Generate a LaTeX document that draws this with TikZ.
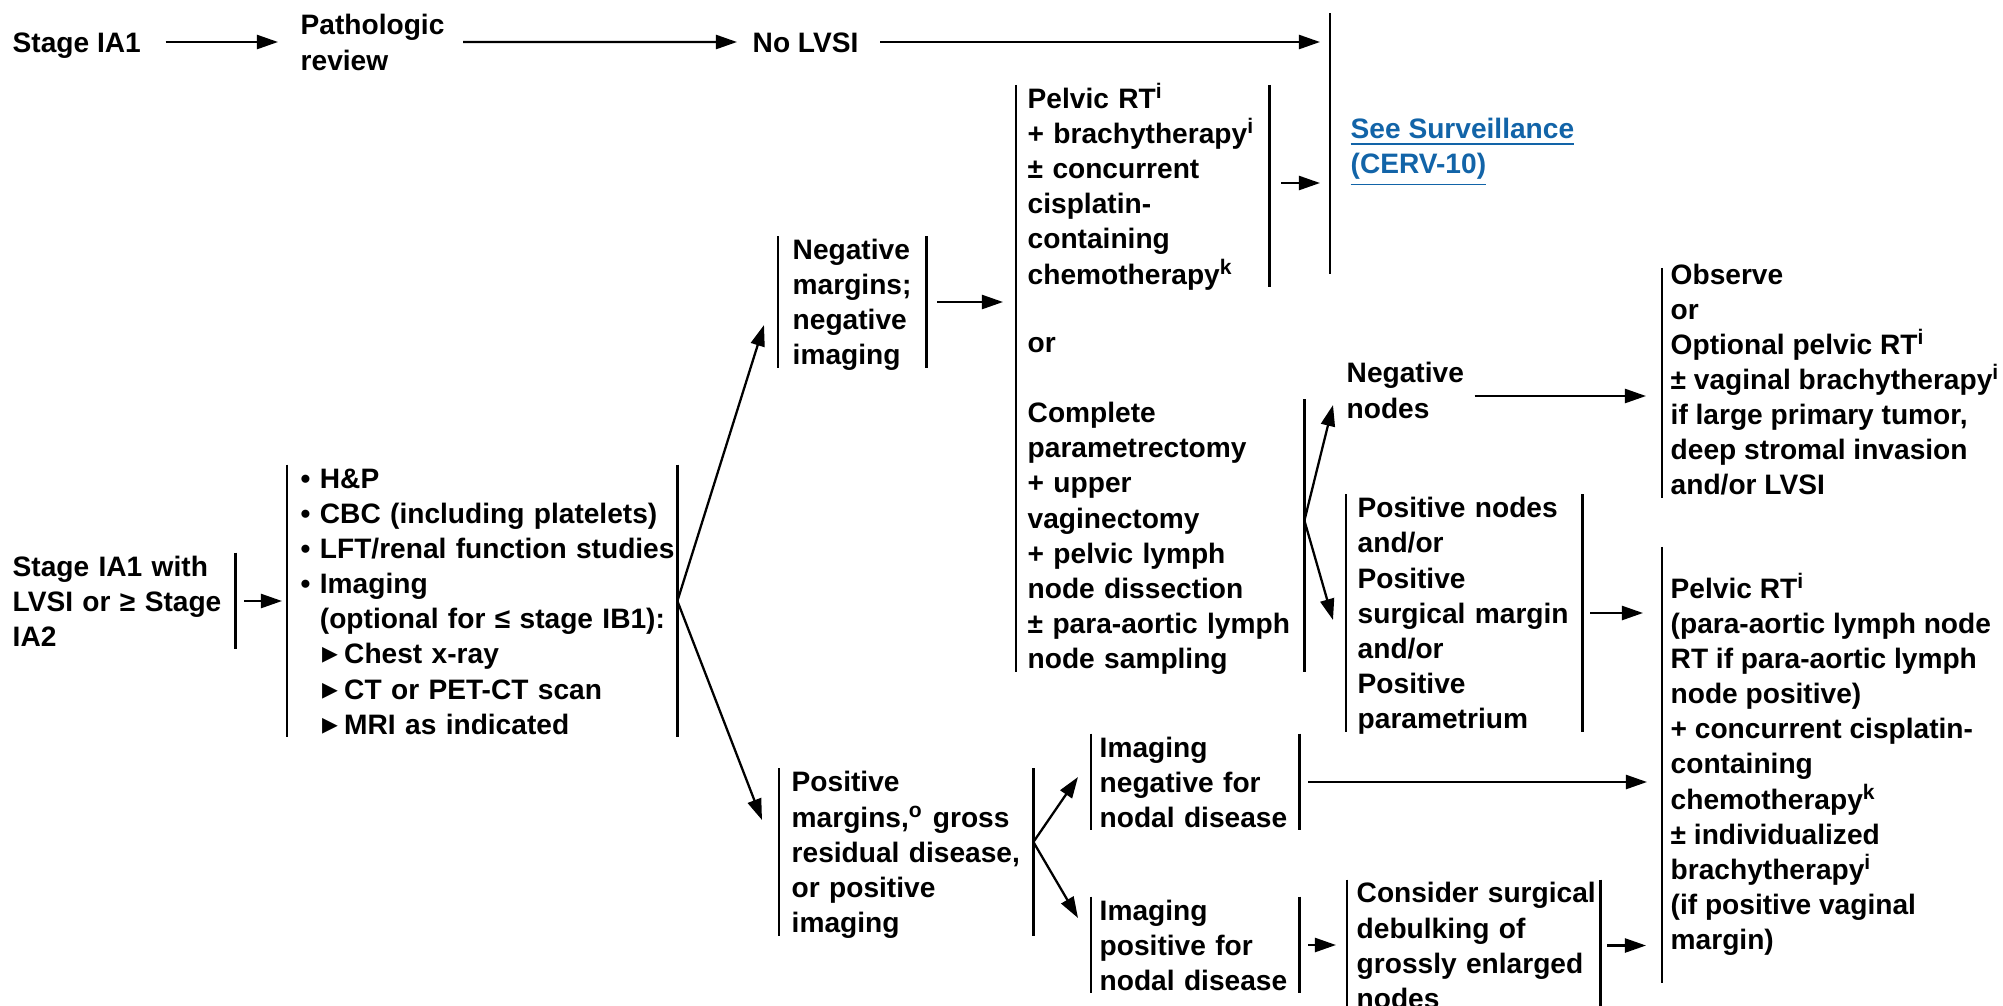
\documentclass[tikz,border=0pt]{standalone}
\usepackage{fontspec}
\setmainfont{Liberation Sans}
\newfontfamily\trifont{DejaVu Sans}
\usetikzlibrary{arrows.meta}
\definecolor{linkblue}{RGB}{18,100,168}
\setlength\parindent{0pt}
\newcommand\lstrut{\rule[-2.1pt]{0pt}{10pt}}
\newcommand\fnref[1]{\textsuperscript{#1}}
\newcommand\tri{\hspace{0.8pt}{\trifont\fontsize{9}{10}\selectfont\char"25B8}\hspace{1.6pt}}

\begin{document}
\begin{tikzpicture}[x=0.1mm,y=-0.1mm,
    txt/.style={anchor=west,align=left,inner sep=0pt,
        font=\fontsize{8}{10}\selectfont\bfseries,
        execute at begin node=\lstrut,execute at end node=\lstrut},
    link/.style={txt,text=linkblue},
    bar/.style={line width=0.65pt,shorten <=0.5mm,shorten >=0.5mm},
    arr/.style={line width=0.65pt,->},
    >={Triangle[length=6pt,width=4pt]}]
\useasboundingbox (0,0) rectangle (2003,1006);

% top row
\node (stagea) at (12,42)[txt]{Stage IA1};
\node (patho) at (300,46)[txt]{Pathologic\\review};
\node (nolvsi) at (752,42)[txt]{No LVSI};
\node (surv) at (1350,152.5)[link,minimum height=26.9mm]{\underline{See Surveillance}\\\underline{(CERV-10)}};
\draw[bar] ([xshift=-2mm,yshift=0.9mm]surv.north west) -- ([xshift=-2mm,yshift=0.9mm]surv.south west);

\draw[arr] ([xshift=2.4mm]stagea.east) -- ([xshift=-2.2mm]stagea.east -| patho.west);
\draw[arr] ([xshift=1.8mm,yshift=0.4mm]patho.east) -- ([xshift=-1.5mm]nolvsi.west);
\draw[arr] ([xshift=2.1mm]nolvsi.east) -- ([xshift=-3mm]nolvsi.east -| surv.west);

% workup
\node (stageb) at (12,601)[txt,text width=22.2mm]{Stage IA1 with\\LVSI or ≥ Stage\\IA2};
\draw[bar] (stageb.north east) -- (stageb.south east);

\node (workup) at (300,601)[txt,text width=37.6mm]{• H\&P\\• CBC (including platelets)\\• LFT/renal function studies\\• Imaging\\\phantom{• }(optional for ≤ stage IB1):\\\phantom{• }\tri Chest x-ray\\\phantom{• }\tri CT or PET-CT scan\\\phantom{• }\tri MRI as indicated};
\draw[bar] ([xshift=-1.3mm]workup.north west) -- ([xshift=-1.3mm]workup.south west);
\draw[bar] (workup.north east) -- (workup.south east);

\draw[arr] ([xshift=0.9mm]stageb.east) -- ([xshift=-1.8mm]stageb.east -| workup.west);

% margins
\node (negm) at (792,302)[txt,text width=13.3mm]{Negative\\margins;\\negative\\imaging};
\draw[bar] ([xshift=-1.4mm]negm.north west) -- ([xshift=-1.4mm]negm.south west);
\draw[bar] (negm.north east) -- (negm.south east);

\node (posm) at (791,852)[txt,text width=24.1mm]{Positive\\margins,\fnref{o} gross\\residual disease,\\or positive\\imaging};
\draw[bar] ([xshift=-1.2mm]posm.north west) -- ([xshift=-1.2mm]posm.south west);
\draw[bar] (posm.north east) -- (posm.south east);

\draw[arr] (workup.east) -- ([xshift=-2.8mm,yshift=-2.3mm]negm.west);
\draw[arr] (workup.east) -- ([xshift=-2.9mm,yshift=3.2mm]posm.west);

% treatment after negative margins
\node (rt) at (1027,186)[txt,text width=24.1mm]{Pelvic RT\fnref{i}\\+ brachytherapy\fnref{i}\\± concurrent\\cisplatin-\\containing\\chemotherapy\fnref{k}};
\node (ornode) at (1027,342)[txt]{or};
\node (surg) at (1027,535.5)[txt,text width=27.6mm]{Complete\\parametrectomy\\+ upper\\vaginectomy\\+ pelvic lymph\\node dissection\\± para-aortic lymph\\node sampling};
\draw[bar] ([xshift=-1.1mm]rt.north west) -- ([xshift=-1.1mm]surg.south west);
\draw[bar] (rt.north east) -- (rt.south east);
\draw[bar] (surg.north east) -- (surg.south east);

\draw[arr] ([xshift=1.1mm]negm.east) -- ([xshift=-2.4mm]negm.east -| rt.west);
\draw[arr] ([xshift=1.2mm,yshift=0.3mm]rt.east) -- ([xshift=-3mm,yshift=0.3mm]rt.east -| surv.west);

% surgical findings
\node (negnodes) at (1346,394)[txt]{Negative\\nodes};
\node (posnodes) at (1357,613)[txt,text width=22.4mm]{Positive nodes\\and/or\\Positive\\surgical margin\\and/or\\Positive\\parametrium};
\draw[bar] ([xshift=-1.1mm]posnodes.north west) -- ([xshift=-1.1mm]posnodes.south west);
\draw[bar] (posnodes.north east) -- (posnodes.south east);

\draw[arr] ([yshift=1.5mm]surg.east) -- ([xshift=-1.3mm,yshift=-1.1mm]negnodes.west);
\draw[arr] ([yshift=1.5mm]surg.east) -- ([xshift=-2.4mm,yshift=-0.7mm]posnodes.west);

% imaging after positive margins
\node (imneg) at (1099,782)[txt,text width=19.9mm]{Imaging\\negative for\\nodal disease};
\draw[bar] ([xshift=-0.8mm]imneg.north west) -- ([xshift=-0.8mm]imneg.south west);
\draw[bar] (imneg.north east) -- (imneg.south east);

\node (impos) at (1099,945)[txt,text width=19.9mm]{Imaging\\positive for\\nodal disease};
\draw[bar] ([xshift=-0.8mm]impos.north west) -- ([xshift=-0.8mm]impos.south west);
\draw[bar] (impos.north east) -- (impos.south east);

\node (debulk) at (1356,945.5)[txt,text width=24.3mm]{Consider surgical\\debulking of\\grossly enlarged\\nodes};
\draw[bar] ([xshift=-0.9mm]debulk.north west) -- ([xshift=-0.9mm]debulk.south west);
\draw[bar] (debulk.north east) -- (debulk.south east);

\draw[arr] ([yshift=1mm]posm.east) -- ([xshift=-2.1mm,yshift=0.5mm]imneg.west);
\draw[arr] ([yshift=1mm]posm.east) -- ([xshift=-2.1mm,yshift=2.7mm]impos.west);
\draw[arr] ([xshift=0.9mm]impos.east) -- ([xshift=-2mm]impos.east -| debulk.west);

% adjuvant
\node (obs) at (1670,383)[txt]{Observe\\or\\Optional pelvic RT\fnref{i}\\± vaginal brachytherapy\fnref{i}\\if large primary tumor,\\deep stromal invasion\\and/or LVSI};
\draw[bar] ([xshift=-0.8mm]obs.north west) -- ([xshift=-0.8mm]obs.south west);

\node (prt) at (1670,765)[txt,minimum height=44.5mm]{Pelvic RT\fnref{i}\\(para-aortic lymph node\\RT if para-aortic lymph\\node positive)\\+ concurrent cisplatin-\\containing\\chemotherapy\fnref{k}\\± individualized\\brachytherapy\fnref{i}\\(if positive vaginal\\margin)};
\draw[bar] ([xshift=-0.8mm]prt.north west) -- ([xshift=-0.8mm]prt.south west);

\draw[arr] ([xshift=1mm,yshift=-0.2mm]negnodes.east) -- ([xshift=-2.4mm,yshift=-0.2mm]negnodes.east -| obs.west);
\draw[arr] ([xshift=0.8mm]posnodes.east) -- ([xshift=-2.7mm]posnodes.east -| prt.west);
\draw[arr] ([xshift=0.9mm]imneg.east) -- ([xshift=-2.3mm]imneg.east -| prt.west);
\draw[arr] ([xshift=0.7mm]debulk.east) -- ([xshift=-2.4mm]debulk.east -| prt.west);
\end{tikzpicture}
\end{document}
